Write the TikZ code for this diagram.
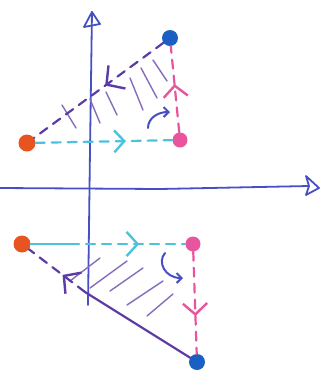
\documentclass[tikz,border=0pt]{standalone}
\usetikzlibrary{arrows.meta,decorations.markings}
\definecolor{axisc}{HTML}{4650C4}
\definecolor{purp}{HTML}{5C3CA4}
\definecolor{cyanc}{HTML}{4CC2DC}
\definecolor{pinkc}{HTML}{E8559E}
\definecolor{orangec}{HTML}{E85420}
\definecolor{bluec}{HTML}{1A60C2}
\tikzset{
  dotnode/.style={circle,inner sep=0pt,minimum size=#1},
  orangedot/.style={dotnode=17pt,fill=orangec},
  pinkdot/.style={dotnode=15pt,fill=pinkc},
  bluedot/.style={dotnode=16pt,fill=bluec},
  axisline/.style={draw=axisc,line width=1.8pt,line cap=round},
  hand/.style={line width=2.2pt,line cap=round,line join=round},
  dsh/.style={dash pattern=on 9pt off 7pt},
  chev/.style 2 args={postaction={decorate},decoration={markings,
     mark=at position #1 with {\arrow[line width=2.4pt]{Straight Barb[length=#2,width=2.2*#2]}}}},
  hatch/.style={draw=purp!75,line width=1.4pt,line cap=round},
  curvarrow/.style={draw=axisc,line width=2pt,line cap=round,-{Straight Barb[length=5pt,width=10pt]}}
}
\begin{document}
\begin{tikzpicture}[x=1pt,y=-1pt]
\useasboundingbox (0,0) rectangle (323,376);
% axes
\coordinate (vbot) at (88,305);
\coordinate (vtop) at (92,12);
\coordinate (hl) at (0,188);
\coordinate (hr) at (309,186);
\draw[axisline] (vbot) -- (90,150) -- (vtop);
\draw[axisline,line join=round] (vtop) -- (84,27) -- (100,24) -- cycle;
\draw[axisline] (hl) -- (160,189) -- (hr);
\draw[axisline,line join=round] (hr) -- (306,176) -- (319,188) -- (306,195) -- cycle;
% top triangle
\node[orangedot] (o1) at (27,143) {};
\node[pinkdot] (p1) at (180,140) {};
\node[bluedot] (b1) at (170,38) {};
\foreach \a/\b in {{62,105}/{76,128},{90,99}/{100,123},{106,92}/{117,115},{130,78}/{143,110},{141,68}/{157,98},{153,60}/{167,81}}
  \draw[hatch] (\a) -- (\b);
\draw[hand,cyanc,dsh,chev={0.66}{10pt}] (o1) -- (p1);
\draw[hand,pinkc,dsh,chev={0.56}{11pt}] (p1) -- (b1);
\draw[hand,purp,dsh,chev={0.45}{13pt}] (b1) -- (o1);
\coordinate (ca1) at (148,128);
\coordinate (ca2) at (170,112);
\draw[curvarrow] (ca1) .. controls (148,118) and (158,112) .. (ca2);
% bottom triangle
\node[orangedot] (o2) at (22,244) {};
\node[pinkdot] (p2) at (193,244) {};
\node[bluedot] (b2) at (197,362) {};
\foreach \a/\b in {{70,281}/{100,258},{90,288}/{127,261},{110,291}/{143,268},{127,305}/{163,281},{147,316}/{173,294}}
  \draw[hatch] (\a) -- (\b);
\coordinate (pm) at (85,292);
\draw[hand,cyanc] (o2) -- (70,244);
\draw[hand,cyanc,dsh,chev={0.6}{11pt}] (70,244) -- (p2);
\draw[hand,pinkc,dsh,chev={0.63}{11pt}] (p2) -- (b2);
\draw[hand,purp] (b2) -- (pm);
\draw[hand,purp,dsh,chev={0.4}{12pt}] (pm) -- (o2);
\coordinate (cb1) at (165,253);
\coordinate (cb2) at (183,278);
\draw[curvarrow] (cb1) .. controls (157,262) and (165,278) .. (cb2);
\end{tikzpicture}
\end{document}
